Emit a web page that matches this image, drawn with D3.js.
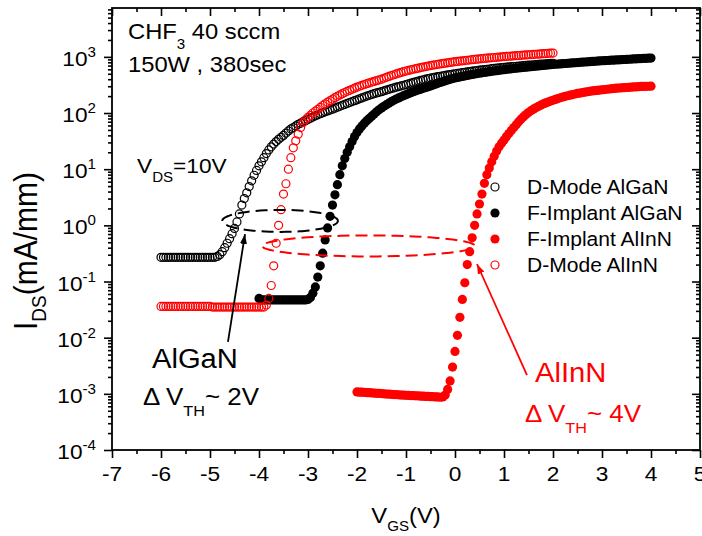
<!DOCTYPE html>
<html>
<head>
<meta charset="utf-8">
<script src="https://cdn.jsdelivr.net/npm/d3@7"></script>
<style>
  body { margin: 0; background: #fff; }
  text { font-family: "Liberation Sans", Arial, sans-serif; }
</style>
</head>
<body>
<div id="chart"></div>
<script>
// gate sweep step (V) for every measured curve
var vStep = 0.05;

// I_DS (mA/mm), D-Mode AlGaN, V_GS from -6 to 2
var dModeAlGaN = [
  0.27,0.27,0.27,0.27,0.27,0.27,0.27,0.27,0.27,0.27,0.27,0.27,0.27,0.27,0.27,0.27,0.27,0.27,0.27,0.27,0.27,0.27,0.27,
  0.28,0.30,0.34,0.40,0.48,0.58,0.71,0.88,1.15,1.6,2.3,3.0,3.8,4.9,6.2,7.8,9.5,11.5,
  13.5,16,19,22,25,28,31,34,37,40,44,48,52,55,59,63,66,70,73,77,
  81,85,89,93,97,101,105,109,113,117,122,127,132,137,142,148,154,160,166,172,
  179,186,193,200,207,214,221,228,234,240,
  248,256,264,272,280,288,296,304,312,320,
  330,340,350,360,370,380,390,400,410,420,
  428,436,444,452,460,468,476,484,492,500,
  508,516,524,532,540,548,556,564,572,580,
  587,594,601,608,615,622,629,636,643,650,
  656,662,668,674,680,686,692,698,704,710,
  716,722,728,734,740,746,752,758,764,770
];

// F-Implant AlGaN, V_GS from -4 to 4
var fImpAlGaN = [
  0.050,
  0.047,0.047,0.047,0.047,0.047,0.047,0.047,0.047,0.047,0.047,0.047,0.047,0.047,0.047,0.047,0.047,0.047,0.047,0.047,
  0.048,0.052,0.062,0.080,0.12,0.19,0.32,0.55,0.9,1.45,2.3,3.5,5.3,8,11.5,15.5,20,25,31,38,45,
  52,59,66,73,80,88,
  96,105,114,123,132,141,150,159,168,177,186,195,204,212,
  221,230,239,248,257,266,275,284,293,302,
  314,326,338,350,362,374,386,398,410,422,
  431,440,449,458,467,476,485,494,503,512,
  520,528,536,544,552,560,568,576,584,592,
  599,606,613,620,627,634,641,648,655,662,
  669,676,683,690,697,704,711,718,725,732,
  738,744,750,756,762,768,774,780,786,792,
  798,804,810,816,822,828,834,840,846,852,
  857,862,867,872,877,882,887,892,897,902,
  907,912,917,922,927,932,937,942,947,952
];

// F-Implant AlInN, V_GS from -2 to 4
var fImpAlInN = [
  0.00108,0.00107,0.00107,0.00106,0.00105,0.00105,0.00104,0.00103,0.00102,0.00102,
  0.00101,0.00100,0.00099,0.00099,0.00098,0.00097,0.00097,0.00096,0.00095,0.00095,
  0.00094,0.00094,0.00093,0.00093,0.00092,0.00092,0.00091,0.00091,0.00090,0.00090,
  0.00089,0.00089,0.00088,0.00088,0.00087,
  0.00088,0.00095,0.0012,0.0017,0.003,0.0057,0.011,0.023,0.048,0.095,0.2,0.34,0.6,1.0,1.6,2.4,3.6,5.6,8,
  10.5,13.5,17,21,25,29,33,38,43,49,55,
  62,70,78,86,94,102,
  110,117,124,131,138,145,151,157,163,169,
  175,181,187,193,198,203,208,213,218,223,
  227,231,235,239,243,247,250,253,256,259,
  262,265,268,271,274,277,279,281,283,285,
  287,289,291,293,295,297,298,299,300,301
];

// D-Mode AlInN, V_GS from -6 to 2
var dModeAlInN = [
  0.036,0.036,0.036,0.036,0.036,0.036,0.036,0.036,0.036,0.036,0.036,0.036,0.036,0.036,0.036,0.036,0.036,0.036,0.036,0.036,0.036,
  0.035,0.035,0.035,0.035,0.035,0.035,0.035,0.035,0.035,0.035,0.035,0.035,0.035,0.035,0.035,0.035,0.035,0.035,0.035,0.035,0.035,0.035,
  0.038,0.05,0.085,0.19,0.48,1.0,1.9,3.6,5.5,10,16,24,32,42,55,68,
  76,84,91,100,108,116,
  126,136,146,156,166,176,
  188,199,210,221,232,243,254,265,277,290,
  300,311,322,333,344,355,366,377,388,400,
  416,432,448,464,480,496,512,528,544,560,
  574,588,602,616,630,644,658,672,686,700,
  712,724,736,748,760,772,784,796,808,820,
  830,840,850,860,870,880,890,900,910,920,
  929,938,947,956,965,974,983,992,1001,1010,
  1018,1026,1034,1042,1050,1058,1066,1074,1082,1090,
  1098,1106,1114,1122,1130,1138,1146,1154,1162,1170
];

var seriesNames = ["D-Mode AlGaN", "F-Implant AlGaN", "F-Implant AlInN", "D-Mode AlInN"];
var seriesStart = [-6, -4, -2, -6];

var xTicks = [-7, -6, -5, -4, -3, -2, -1, 0, 1, 2, 3, 4, 5];
var yDecades = [-4, -3, -2, -1, 0, 1, 2, 3];

// dashed loops around the threshold region: centre (V, I), half width in V, half height in decades
var loops = [
  { v: -3.57, i: 1.2, rv: 1.18, rd: 0.196, red: false },
  { v: -1.765, i: 0.43, rv: 2.17, rd: 0.187, red: true }
];
// annotation arrows: tail and tip in (V, I)
var arrows = [
  { v0: -4.633, i0: 0.0084, v1: -4.286, i1: 0.70, red: false },
  { v0: 1.469, i0: 0.00216, v1: 0.449, i1: 0.205, red: true }
];

var RED = "#ff0000";
var TX = 1.08; // text in the picture is a bit wide

var W = 702, H = 536;
var svg = d3.select("#chart").append("svg")
  .attr("width", W)
  .attr("height", H)
  .style("display", "block");

svg.append("rect").attr("width", W).attr("height", H).attr("fill", "#fff");

var x = d3.scaleLinear().domain([-7, 5]).range([112, 700]);
var y = d3.scaleLog().domain([1e-4, Math.pow(10, 3.87)]).range([450, 8]);

// text with sub / superscripts, stretched a little horizontally
function addText(px, py, parts, size, color, anchor, rot) {
  var t = svg.append("text")
    .attr("transform", "translate(" + px + "," + py + ") scale(" + TX + ",1)" + (rot ? " rotate(" + rot + ")" : ""))
    .attr("font-size", size)
    .attr("fill", color || "#000")
    .attr("text-anchor", anchor || "start");
  var prev = 0;
  parts.forEach(function(p) {
    var dy = 0, fs = size;
    if (p[1] === "sub") { fs = p[2] || size * 0.64; dy = p[3] || size * 0.42; }
    if (p[1] === "sup") { fs = p[2] || size * 0.64; dy = p[3] || -size * 0.42; }
    t.append("tspan").attr("font-size", fs).attr("dy", dy - prev).text(p[0]);
    prev = dy;
  });
  return t;
}

// ---- data ----
var allSeries = [dModeAlGaN, fImpAlGaN, fImpAlInN, dModeAlInN].map(function(vals, k) {
  return vals.map(function(I, i) {
    return { v: seriesStart[k] + i * vStep, I: I };
  });
});

function styleMarker(sel, k) {
  var red = (k === 2 || k === 3);
  var open = (k === 0 || k === 3);
  sel.attr("r", open ? 4 : 4.6)
    .attr("fill", open ? "none" : (red ? RED : "#000"))
    .attr("stroke", open ? (red ? RED : "#000") : "none")
    .attr("stroke-width", 1.2);
}

allSeries.forEach(function(pts, k) {
  svg.append("g").selectAll("circle")
    .data(pts)
    .enter().append("circle")
    .attr("cx", function(d) { return x(d.v); })
    .attr("cy", function(d) { return y(d.I); })
    .call(styleMarker, k);
});

// ---- axes ----
var xMinor = d3.range(-6.5, 5, 1);
var yMinor = [];
yDecades.forEach(function(d) {
  for (var m = 2; m <= 9; m++) {
    var val = m * Math.pow(10, d);
    if (Math.log10(val) <= 3.87) yMinor.push(val);
  }
});

function tickAxis(axis, tr) {
  var g = svg.append("g").attr("transform", tr).call(axis);
  g.select(".domain").remove();
  g.selectAll("line").attr("stroke", "#000").attr("stroke-width", 1.6);
  g.selectAll("text").remove();
}

tickAxis(d3.axisBottom(x).tickValues(xTicks).tickSize(8), "translate(0,450)");
tickAxis(d3.axisBottom(x).tickValues(xMinor).tickSize(4), "translate(0,450)");
tickAxis(d3.axisTop(x).tickValues(xTicks).tickSize(-8), "translate(0,8)");
tickAxis(d3.axisTop(x).tickValues(xMinor).tickSize(-4), "translate(0,8)");
var yMajorVals = yDecades.map(function(d) { return Math.pow(10, d); });
tickAxis(d3.axisLeft(y).tickValues(yMajorVals).tickSize(8), "translate(112,0)");
tickAxis(d3.axisLeft(y).tickValues(yMinor).tickSize(4), "translate(112,0)");
tickAxis(d3.axisRight(y).tickValues(yMajorVals).tickSize(-8), "translate(700,0)");
tickAxis(d3.axisRight(y).tickValues(yMinor).tickSize(-4), "translate(700,0)");

svg.append("rect")
  .attr("x", 112).attr("y", 8)
  .attr("width", 700 - 112).attr("height", 450 - 8)
  .attr("fill", "none").attr("stroke", "#000").attr("stroke-width", 1.8);

xTicks.forEach(function(d) {
  addText(x(d), 481, [[String(d)]], 21, "#000", "middle");
});
yDecades.forEach(function(d) {
  addText(96, y(Math.pow(10, d)) + 9, [["10"], [String(d), "sup", 14, -9]], 21, "#000", "end");
});

// axis titles
addText(406, 523, [["V"], ["GS", "sub", 14, 8], ["(V)"]], 22, "#000", "middle");
addText(37, 251, [["I"], ["DS", "sub", 19, 8], ["(mA/mm)"]], 30, "#000", "middle", -90);

// ---- dashed loops ----
loops.forEach(function(c) {
  var ring = d3.range(0, 360, 5).map(function(a) {
    var t = a * Math.PI / 180;
    return [x(c.v + c.rv * Math.cos(t)), y(c.i * Math.pow(10, c.rd * Math.sin(t)))];
  });
  svg.append("path")
    .attr("d", d3.line().curve(d3.curveCardinalClosed)(ring))
    .attr("fill", "none")
    .attr("stroke", c.red ? RED : "#000")
    .attr("stroke-width", 2)
    .attr("stroke-dasharray", "12,6");
});

// ---- arrows ----
var defs = svg.append("defs");
[["headK", "#000"], ["headR", RED]].forEach(function(m) {
  defs.append("marker")
    .attr("id", m[0])
    .attr("viewBox", "0 0 10 7")
    .attr("refX", 10).attr("refY", 3.5)
    .attr("markerWidth", 10).attr("markerHeight", 7)
    .attr("markerUnits", "userSpaceOnUse")
    .attr("orient", "auto")
    .append("path").attr("d", "M0,0L10,3.5L0,7Z").attr("fill", m[1]);
});
arrows.forEach(function(a) {
  svg.append("line")
    .attr("x1", x(a.v0)).attr("y1", y(a.i0))
    .attr("x2", x(a.v1)).attr("y2", y(a.i1))
    .attr("stroke", a.red ? RED : "#000")
    .attr("stroke-width", 1.8)
    .attr("marker-end", "url(#" + (a.red ? "headR" : "headK") + ")");
});

// ---- legend ----
seriesNames.forEach(function(name, k) {
  svg.append("circle")
    .attr("cx", 495).attr("cy", 187 + k * 26)
    .call(styleMarker, k);
  addText(527, 194 + k * 26, [[name]], 19.5, "#000", "start");
});

// ---- notes ----
addText(128, 39, [["CHF"], ["3", "sub", 14, 10], [" 40 sccm"]], 22);
addText(128, 72, [["150W , 380sec"]], 22);
addText(137, 173, [["V"], ["DS", "sub", 14, 9], ["=10V"]], 21);

addText(152, 368, [["AlGaN"]], 27);
addText(143, 405, [["\u0394 V"], ["TH", "sub", 15, 11], ["~ 2V"]], 24);
addText(535, 382, [["AlInN"]], 27, RED);
addText(525, 422, [["\u0394 V"], ["TH", "sub", 15, 11], ["~ 4V"]], 24, RED);
</script>
</body>
</html>
